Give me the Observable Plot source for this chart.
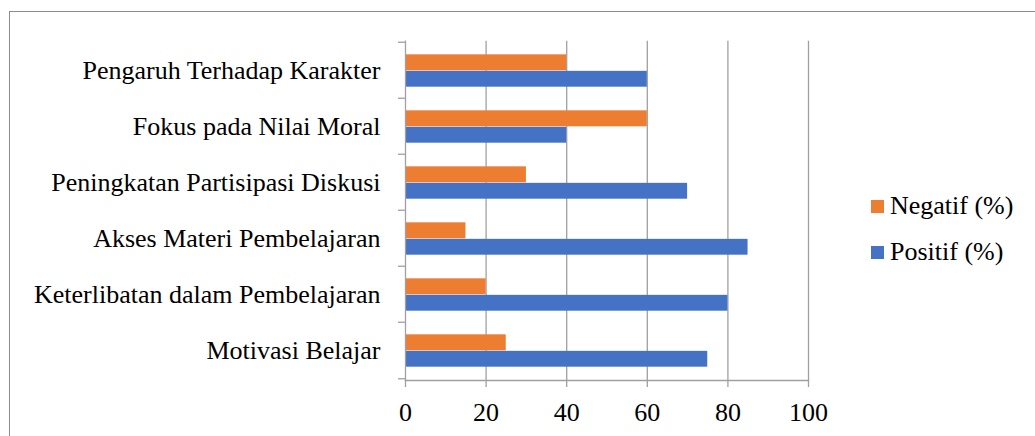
<!DOCTYPE html>
<html>
<head>
<meta charset="utf-8">
<script src="https://cdn.jsdelivr.net/npm/d3@7"></script>
<script src="https://cdn.jsdelivr.net/npm/@observablehq/plot@0.6"></script>
<style>
  html, body { margin: 0; padding: 0; background: #fff; }
  #wrap { position: relative; width: 1035px; height: 436px; overflow: hidden; font-family: "Liberation Serif", "Times New Roman", Times, "Nimbus Roman", "Noto Serif", FreeSerif, "DejaVu Serif", serif; }
  #border { position: absolute; left: 9px; top: 11px; width: 1100px; height: 500px; border-left: 1.5px solid #8c8c8c; border-top: 1.5px solid #8c8c8c; box-sizing: border-box; }
  #chart { position: absolute; left: 0; top: 0; }
  #chart svg, #chart svg text { font-family: "Liberation Serif", "Times New Roman", Times, "Nimbus Roman", "Noto Serif", FreeSerif, "DejaVu Serif", serif !important; }
  .leg { position: absolute; left: 871px; font-size: 26px; color: #000; line-height: 1; white-space: nowrap; }
  .leg .sw { display: inline-block; width: 13px; height: 13px; margin-right: 6px; vertical-align: 1px; }
</style>
</head>
<body>
<div id="wrap">
  <div id="border"></div>
  <div id="chart"></div>
  <div id="legend"></div>
</div>
<script>
// Data (top to bottom)
const categories = [
  "Pengaruh Terhadap Karakter",
  "Fokus pada Nilai Moral",
  "Peningkatan Partisipasi Diskusi",
  "Akses Materi Pembelajaran",
  "Keterlibatan dalam Pembelajaran",
  "Motivasi Belajar"
];
const negatif = [40, 60, 30, 15, 20, 25];
const positif = [60, 40, 70, 85, 80, 75];
const seriesNames = ["Negatif (%)", "Positif (%)"];
const seriesColors = ["#ED7D31", "#4472C4"];
const xTicks = [0, 20, 40, 60, 80, 100];

const negData = categories.map((c, i) => ({category: c, value: negatif[i]}));
const posData = categories.map((c, i) => ({category: c, value: positif[i]}));

const W = 1035, H = 436;
const mTop = 40.7, mBottom = 56, mLeft = 405, mRight = 227;
const bw = (H - mTop - mBottom) / categories.length;
const gray = "#a0a0a0";
const serif = "'Liberation Serif', 'Times New Roman', Times, 'Nimbus Roman', 'Noto Serif', FreeSerif, 'DejaVu Serif', serif";

const chart = Plot.plot({
  width: W,
  height: H,
  marginTop: mTop,
  marginBottom: mBottom,
  marginLeft: mLeft,
  marginRight: mRight,
  style: {fontFamily: serif, fontSize: "26px", color: "#000", background: "transparent", overflow: "visible"},
  x: {domain: [0, 100]},
  y: {domain: categories, padding: 0},
  marks: [
    Plot.gridX(xTicks.slice(1), {stroke: gray, strokeOpacity: 1, strokeWidth: 1.3}),
    Plot.barX(negData, {y: "category", x: "value", fill: seriesColors[0], insetTop: bw * 0.218, insetBottom: bw * 0.49}),
    Plot.barX(posData, {y: "category", x: "value", fill: seriesColors[1], insetTop: bw * 0.51, insetBottom: bw * 0.2}),
    Plot.frame({anchor: "left", stroke: gray, strokeWidth: 1.3}),
    Plot.frame({anchor: "bottom", stroke: gray, strokeWidth: 1.3}),
    Plot.axisX({ticks: xTicks, tickSize: 7, tickPadding: 15, stroke: gray, strokeWidth: 1.3, fill: "#000", label: null, fontSize: 26}),
    Plot.axisY({tickSize: 0, tickPadding: 25, fill: "#000", label: null, fontSize: 26}),
    Plot.axisY({tickSize: 7, text: null, stroke: gray, strokeWidth: 1.3, dy: -bw / 2, label: null}),
    Plot.axisY({ticks: [categories[categories.length - 1]], tickSize: 7, text: null, stroke: gray, strokeWidth: 1.3, dy: bw / 2, label: null})
  ]
});
document.getElementById("chart").appendChild(chart);

// Legend
const legend = document.getElementById("legend");
const legTops = [193, 239];
seriesNames.forEach((name, i) => {
  const d = document.createElement("div");
  d.className = "leg";
  d.style.top = legTops[i] + "px";
  const sw = document.createElement("span");
  sw.className = "sw";
  sw.style.background = seriesColors[i];
  d.appendChild(sw);
  d.appendChild(document.createTextNode(name));
  legend.appendChild(d);
});
</script>
</body>
</html>
